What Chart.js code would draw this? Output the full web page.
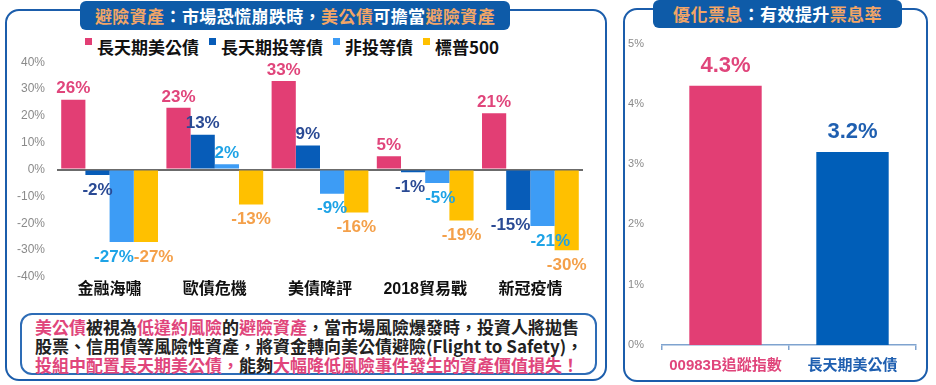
<!DOCTYPE html>
<html>
<head>
<meta charset="utf-8">
<script src="https://cdn.jsdelivr.net/npm/chart.js@4.4.1/dist/chart.umd.min.js"></script>
<style>
  html, body { margin: 0; padding: 0; background: #fff; }
  body { width: 936px; height: 385px; position: relative; overflow: hidden;
         font-family: "Noto Sans CJK TC", "Liberation Sans", sans-serif; }
  .panel { position: absolute; box-sizing: border-box; border: 2px solid #1b5dab; border-radius: 14px; }
  .banner { position: absolute; background: #0e5ba8; border-radius: 6px; color: #fff;
            font-weight: bold; font-size: 17px; text-align: center; letter-spacing: 0.4px; }
  .banner .hl { color: #f2a566; }
  .legend { position: absolute; left: 85px; top: 34px; display: flex; font-size: 17px; font-weight: bold; color: #111; }
  .legend .item { display: flex; align-items: flex-start; margin-right: 10px; }
  .legend .sq { width: 7px; height: 7px; margin: 4px 5px 0 0; }
  .note { position: absolute; left: 20px; top: 313px; width: 577px; height: 62px; box-sizing: border-box;
          border: 2px solid #2d6cb6; border-radius: 12px; padding: 2px 0 0 13px;
          font-size: 17px; line-height: 19px; font-weight: bold; color: #222; white-space: nowrap; }
  .note .pk { color: #e0457b; }
  .box { position: absolute; }
</style>
</head>
<body>

<div class="panel" style="left:5px; top:9px; width:602px; height:372px;"></div>
<div class="banner" style="left:80px; top:1px; width:430px; height:29px; line-height:29px;">
  <span class="hl">避險資產</span>：市場恐慌崩跌時，<span class="hl">美公債</span>可擔當<span class="hl">避險資產</span>
</div>
<div class="legend" id="legend"></div>
<div class="box" style="left:0px; top:43px; width:600px; height:263px;"><canvas id="left"></canvas></div>
<div class="note">
  <div><span class="pk">美公債</span>被視為<span class="pk">低違約風險</span>的<span class="pk">避險資產</span>，當市場風險爆發時，投資人將拋售</div>
  <div>股票、信用債等風險性資產，將資金轉向美公債避險(Flight to Safety)，</div>
  <div><span class="pk">投組中配置長天期美公債，</span>能夠<span class="pk">大幅降低風險事件發生的資產價值損失！</span></div>
</div>

<div class="panel" style="left:623px; top:8px; width:305px; height:374px;"></div>
<div class="banner" style="left:653px; top:0px; width:249px; height:28px; line-height:28px;">
  <span class="hl">優化票息</span>：有效提升<span class="hl">票息率</span>
</div>
<div class="box" style="left:625px; top:27px; width:300px; height:359px;"><canvas id="right"></canvas></div>

<script>
// left chart data
const events = ['金融海嘯', '歐債危機', '美債降評', '2018貿易戰', '新冠疫情'];
const seriesNames = ['長天期美公債', '長天期投等債', '非投等債', '標普500'];
const longTreasury = [26, 23, 33, 5, 21];
const longIG = [-2, 13, 9, -1, -15];
const highYield = [-27, 2, -9, -5, -21];
const sp500 = [-27, -13, -16, -19, -30];
const leftTicks = [-40, -30, -20, -10, 0, 10, 20, 30, 40];

// right chart data
const couponLabels = ['00983B追蹤指數', '長天期美公債'];
const couponRates = [4.3, 3.2];
const rightTicks = [0, 1, 2, 3, 4, 5];

const barColors = ['#e23e74', '#075cb8', '#3d9cf5', '#ffc000'];
const textColors = ['#e0457b', '#2a4a94', '#1ea3e6', '#f4a04a'];
const cjk = '"Liberation Sans", "Noto Sans CJK TC", sans-serif';

// html legend
const lg = document.getElementById('legend');
seriesNames.forEach((n, i) => {
  const it = document.createElement('div');
  it.className = 'item';
  it.innerHTML = '<span class="sq" style="background:' + barColors[i] + '"></span>' + n;
  lg.appendChild(it);
});

// draws the value above/below each bar, nudging apart labels that collide
const valueLabels = {
  id: 'valueLabels',
  afterDatasetsDraw(chart, args, opts) {
    const ctx = chart.ctx;
    ctx.save();
    ctx.font = opts.font;
    ctx.textAlign = 'center';
    ctx.textBaseline = 'middle';
    const n = chart.data.labels.length;
    for (let j = 0; j < n; j++) {
      const items = [];
      chart.data.datasets.forEach((ds, i) => {
        const bar = chart.getDatasetMeta(i).data[j];
        const v = ds.data[j];
        const txt = opts.format(v);
        items.push({
          txt, x: bar.x, w: ctx.measureText(txt).width,
          y: v >= 0 ? bar.y - opts.above : bar.y + opts.below,
          color: Array.isArray(ds.labelColor) ? ds.labelColor[j] : ds.labelColor
        });
      });
      for (let k = 1; k < items.length; k++) {
        const a = items[k - 1], b = items[k];
        if (Math.abs(a.y - b.y) > opts.size) continue;
        const ov = (a.x + a.w / 2) - (b.x - b.w / 2);
        if (ov > 0) { a.x -= ov / 2; b.x += ov / 2; }
      }
      items.forEach(it => { ctx.fillStyle = it.color; ctx.fillText(it.txt, it.x, it.y); });
    }
    ctx.restore();
  }
};

const leftData = [longTreasury, longIG, highYield, sp500];

new Chart(document.getElementById('left'), {
  type: 'bar',
  data: {
    labels: events,
    datasets: leftData.map((d, i) => ({
      label: seriesNames[i], data: d, backgroundColor: barColors[i], labelColor: textColors[i],
      categoryPercentage: 0.92, barPercentage: 1.0
    }))
  },
  options: {
    responsive: true, maintainAspectRatio: false, animation: false,
    layout: { padding: { top: 0, right: 17, bottom: 3, left: 0 } },
    plugins: {
      legend: { display: false }, tooltip: { enabled: false },
      valueLabels: { font: 'bold 17px ' + cjk, size: 17, above: 11, below: 15, format: v => v + '%' }
    },
    scales: {
      x: {
        grid: { display: false, drawTicks: false }, border: { display: false },
        ticks: { color: '#111', padding: 5, font: { size: 16, weight: 'bold', family: cjk, lineHeight: 1 } }
      },
      y: {
        min: leftTicks[0], max: leftTicks[leftTicks.length - 1],
        afterBuildTicks: s => { s.ticks = leftTicks.map(v => ({ value: v })); },
        afterFit: s => { s.width = 57; },
        border: { display: false },
        grid: { drawTicks: false, lineWidth: 2, color: c => c.tick && c.tick.value === 0 ? '#6b6b6b' : 'rgba(0,0,0,0)' },
        ticks: { color: '#8a8a8a', padding: 12, font: { size: 12, family: cjk }, callback: v => v + '%' }
      }
    }
  },
  plugins: [valueLabels]
});

new Chart(document.getElementById('right'), {
  type: 'bar',
  data: {
    labels: couponLabels,
    datasets: [{
      data: couponRates, backgroundColor: ['#e23e74', '#005eb8'], labelColor: ['#e0457b', '#1f5fb0'],
      categoryPercentage: 1.0, barPercentage: 0.57
    }]
  },
  options: {
    responsive: true, maintainAspectRatio: false, animation: false,
    layout: { padding: { top: 3, right: 9, bottom: 4, left: 0 } },
    plugins: {
      legend: { display: false }, tooltip: { enabled: false },
      valueLabels: { font: 'bold 22px ' + cjk, size: 22, above: 20, below: 20, format: v => v.toFixed(1) + '%' }
    },
    scales: {
      x: {
        border: { display: true, color: '#7fa3cf', width: 1.5 },
        grid: { drawOnChartArea: false, drawTicks: true, tickLength: 5, color: '#7fa3cf', lineWidth: 1.5 },
        ticks: { padding: 7, color: c => ['#e0457b', '#1f5fb0'][c.index], font: { size: 15, weight: 'bold', family: cjk } }
      },
      y: {
        min: rightTicks[0], max: rightTicks[rightTicks.length - 1],
        afterBuildTicks: s => { s.ticks = rightTicks.map(v => ({ value: v })); },
        afterFit: s => { s.width = 37; },
        border: { display: false },
        grid: { display: false },
        ticks: { color: '#8a8a8a', padding: 10, font: { size: 11, family: cjk }, callback: v => v + '%' }
      }
    }
  },
  plugins: [valueLabels]
});
</script>
</body>
</html>
